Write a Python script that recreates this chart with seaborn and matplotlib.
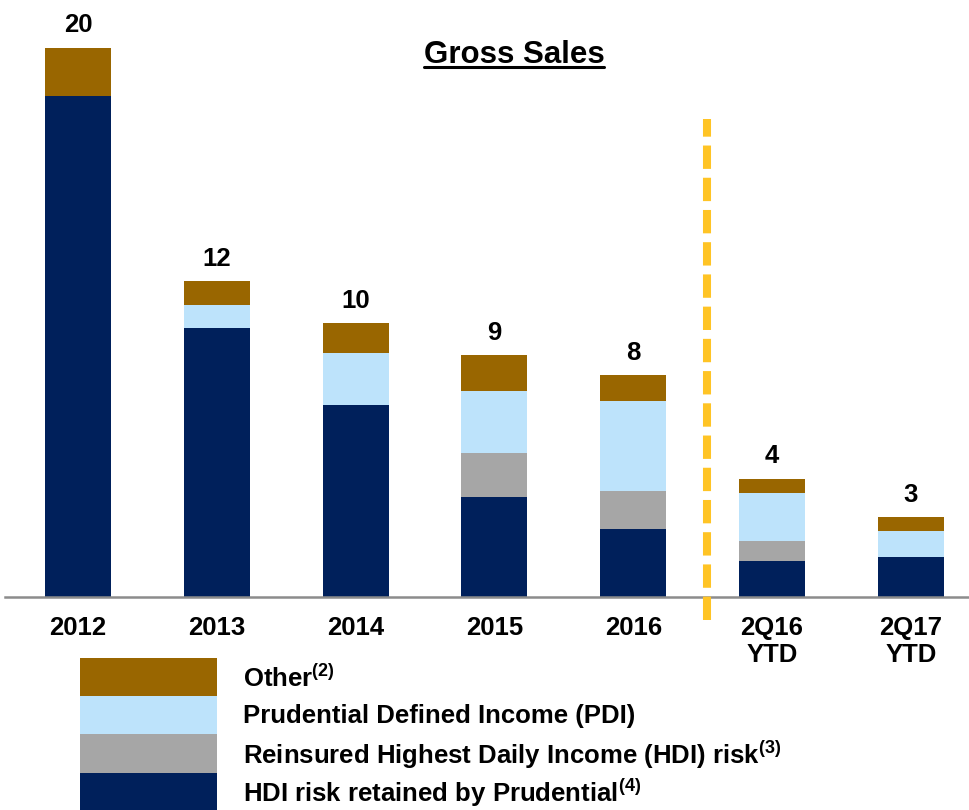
import matplotlib
matplotlib.use("Agg")
import matplotlib.pyplot as plt
import seaborn as sns
import numpy as np
import pandas as pd
from matplotlib.patches import Rectangle

sns.set_style("white")
plt.rcParams['font.family'] = ['Liberation Sans', 'DejaVu Sans']
plt.rcParams['mathtext.fontset'] = 'custom'
plt.rcParams['mathtext.bf'] = 'Liberation Sans:bold'
plt.rcParams['mathtext.rm'] = 'Liberation Sans:bold'
plt.rcParams['text.color'] = 'black'
plt.rcParams['xtick.color'] = 'black'
plt.rcParams['xtick.labelcolor'] = 'black'

categories = ["2012", "2013", "2014", "2015", "2016", "2Q16\nYTD", "2Q17\nYTD"]
hdi_retained = [18.23, 9.79, 6.98, 3.64, 2.47, 1.31, 1.45]
hdi_reinsured = [0.0, 0.0, 0.0, 1.60, 1.38, 0.73, 0.0]
pdi = [0.0, 0.83, 1.89, 2.25, 3.27, 1.75, 0.95]
other = [1.75, 0.87, 1.09, 1.31, 0.95, 0.51, 0.51]
total_labels = ["20", "12", "10", "9", "8", "4", "3"]

series_names = ["Other$^{\\bf{(2)}}$",
                "Prudential Defined Income (PDI)",
                "Reinsured Highest Daily Income (HDI) risk$^{\\bf{(3)}}$",
                "HDI risk retained by Prudential$^{\\bf{(4)}}$"]
colors = ["#996600", "#BDE3FB", "#A6A6A6", "#00205B"]

df = pd.DataFrame({"cat": categories, "hdi": hdi_retained, "reins": hdi_reinsured,
                   "pdi": pdi, "other": other})
df["c1"] = df["hdi"]
df["c2"] = df["c1"] + df["reins"]
df["c3"] = df["c2"] + df["pdi"]
df["c4"] = df["c3"] + df["other"]

fig = plt.figure(figsize=(9.69, 8.10), dpi=100)
ax = fig.add_axes([5/969, 213/810, 964/969, 597/810])

for col, c in zip(["c4", "c3", "c2", "c1"], colors):
    sns.barplot(data=df, x="cat", y=col, color=c, width=0.475, ax=ax,
                saturation=1, edgecolor="none", linewidth=0)

ax.set_xlim(-0.526, 6.419)
ax.set_ylim(0, 21.71)
ax.set_xlabel("")
ax.set_ylabel("")
ax.set_yticks([])
for s in ["top", "left", "right"]:
    ax.spines[s].set_visible(False)
ax.spines["bottom"].set_color("#8C8C8C")
ax.spines["bottom"].set_linewidth(1.8)
ax.tick_params(axis="x", length=0, pad=14, labelcolor="black")
ax.set_xticks(range(len(categories)))
ax.set_xticklabels(categories, fontsize=18.5, fontweight="bold", linespacing=1.15,
                   color="black")

for i, (tot, lab) in enumerate(zip(df["c4"], total_labels)):
    ax.annotate(lab, (i, tot), xytext=(0, 11), textcoords="offset points",
                ha="center", va="baseline", fontsize=18.5, fontweight="bold",
                color="black")

# divider
ax.axvline(4.53, ymin=-0.039, ymax=0.80, color="#FFC425", lw=5.8,
           linestyle=(0, (2.9, 1.1)), clip_on=False, zorder=5)

# title with underline
t = fig.text(514/969, 1 - 55/810, "Gross Sales", ha="center", va="center",
             fontsize=22.5, fontweight="bold", color="black")
fig.canvas.draw()
bb = t.get_window_extent(renderer=fig.canvas.get_renderer())
inv = fig.transFigure.inverted()
(x0, y0), (x1, y1) = inv.transform([[bb.x0, bb.y0], [bb.x1, bb.y1]])
fig.add_artist(plt.Line2D([x0, x1], [y0 + 0.004, y0 + 0.004], color="black",
                          lw=2.2, transform=fig.transFigure))

# legend
leg_top = 658
step = 38.2
for k, (name, c) in enumerate(zip(series_names, colors)):
    ytop = leg_top + k * step
    fig.add_artist(Rectangle((80/969, 1 - (ytop + step)/810), 137/969, step/810,
                             transform=fig.transFigure, facecolor=c, edgecolor="none"))
    fig.text(243/969, 1 - (ytop + step/2 + 1)/810, name, ha="left", va="center",
             fontsize=18.5, fontweight="bold", color="black")

fig.savefig("out.png", dpi=100)
